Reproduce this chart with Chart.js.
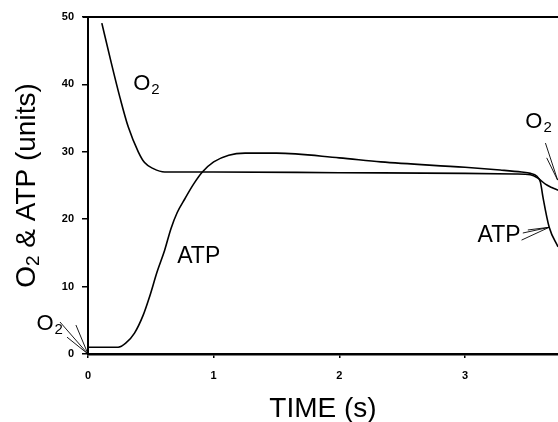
<!DOCTYPE html>
<html>
<head>
<meta charset="utf-8">
<script src="https://cdn.jsdelivr.net/npm/chart.js@4.4.0/dist/chart.umd.min.js"></script>
<style>
  body { margin: 0; background: #fff; }
  canvas { display: block; }
</style>
</head>
<body>
<canvas id="chartO2" width="558" height="422"></canvas>
<script>
// O2 trace (time in s, value in units)
const o2Time = [0.11, 0.18, 0.255, 0.32, 0.40, 0.45, 0.52, 0.61, 1.0, 2.0, 3.0, 3.4, 3.52, 3.58, 3.64, 3.69, 3.74];
const o2Vals = [49.1, 43.6, 38.0, 33.7, 30.0, 28.4, 27.5, 27.0, 27.0, 26.9, 26.8, 26.7, 26.6, 26.1, 25.2, 24.7, 24.3];

// ATP trace
const atpTime = [0, 0.24, 0.30, 0.37, 0.44, 0.49, 0.55, 0.61, 0.66, 0.71, 0.77, 0.84, 0.91, 1.0, 1.12, 1.25, 1.5, 2.0, 2.33, 3.0, 3.28, 3.45, 3.52, 3.57, 3.60, 3.62, 3.67, 3.74];
const atpVals = [1.0, 1.0, 1.6, 3.1, 5.8, 8.5, 12.2, 15.4, 18.6, 21.0, 23.0, 25.2, 27.0, 28.5, 29.5, 29.8, 29.8, 29.1, 28.5, 27.7, 27.3, 27.0, 26.8, 26.4, 25.5, 23.3, 18.8, 15.9];

const xTicks = [0, 1, 2, 3];
const yTicks = [0, 10, 20, 30, 40, 50];

// text labels on the plot: [text, subscript, time, value, font size]
const labels = [
  ['O', '2', 0.36, 39.2, 22],
  ['ATP', '', 0.71, 13.5, 23],
  ['O', '2', -0.41, 3.6, 22],
  ['O', '2', 3.48, 33.5, 22],
  ['ATP', '', 3.10, 16.6, 23]
];
// little feathered arrows: tip and tails
const arrows = [
  { tip: [0, 0], tails: [[-0.223, 4.75], [-0.167, 2.5], [-0.096, 4.3]] },
  { tip: [3.737, 25.8], tails: [[3.64, 31.3], [3.65, 29.1]] },
  { tip: [3.67, 18.8], tails: [[3.46, 17.95], [3.45, 16.9], [3.50, 18.4]] }
];

const FONT = '"Liberation Sans", Arial, sans-serif';

const extras = {
  id: 'extras',
  afterDraw(chart) {
    const ctx = chart.ctx;
    const xs = chart.scales.x, ys = chart.scales.y;
    const area = chart.chartArea;
    ctx.save();
    ctx.strokeStyle = '#000';
    ctx.fillStyle = '#000';

    // top frame line
    ctx.lineWidth = 2;
    ctx.beginPath();
    ctx.moveTo(area.left - 5, area.top);
    ctx.lineTo(area.right, area.top);
    ctx.stroke();

    // labels
    ctx.textBaseline = 'alphabetic';
    ctx.textAlign = 'left';
    labels.forEach(([txt, sub, t, v, size]) => {
      const px = xs.getPixelForValue(t), py = ys.getPixelForValue(v);
      ctx.font = size + 'px ' + FONT;
      ctx.fillText(txt, px, py);
      if (sub) {
        const w = ctx.measureText(txt).width;
        ctx.font = Math.round(size * 0.68) + 'px ' + FONT;
        ctx.fillText(sub, px + w + 1, py + 4);
      }
    });

    // arrows
    ctx.lineWidth = 0.9;
    arrows.forEach(a => {
      const tx = xs.getPixelForValue(a.tip[0]), ty = ys.getPixelForValue(a.tip[1]);
      a.tails.forEach(([t, v]) => {
        ctx.beginPath();
        ctx.moveTo(xs.getPixelForValue(t), ys.getPixelForValue(v));
        ctx.lineTo(tx, ty);
        ctx.stroke();
      });
    });

    // y axis title with subscript
    ctx.translate(27, (area.top + area.bottom) / 2);
    ctx.rotate(-Math.PI / 2);
    const big = '28px ' + FONT, small = '19px ' + FONT;
    ctx.font = big;
    const wO = ctx.measureText('O').width;
    const rest = ' & ATP (units)';
    const wRest = ctx.measureText(rest).width;
    ctx.font = small;
    const w2 = ctx.measureText('2').width;
    const total = wO + w2 + wRest;
    let x0 = -total / 2;
    ctx.textBaseline = 'middle';
    ctx.font = big;
    ctx.fillText('O', x0, 0);
    ctx.font = small;
    ctx.fillText('2', x0 + wO, 7);
    ctx.font = big;
    ctx.fillText(rest, x0 + wO + w2, 0);
    ctx.restore();
  }
};

new Chart(document.getElementById('chartO2').getContext('2d'), {
  type: 'line',
  data: {
    datasets: [
      {
        label: 'O2',
        data: o2Time.map((t, i) => ({ x: t, y: o2Vals[i] })),
        borderColor: '#000',
        borderWidth: 1.6,
        pointRadius: 0,
        cubicInterpolationMode: 'monotone',
        fill: false
      },
      {
        label: 'ATP',
        data: atpTime.map((t, i) => ({ x: t, y: atpVals[i] })),
        borderColor: '#000',
        borderWidth: 1.6,
        pointRadius: 0,
        cubicInterpolationMode: 'monotone',
        fill: false
      }
    ]
  },
  options: {
    responsive: false,
    animation: false,
    layout: { padding: { top: 17, right: 0, left: 0, bottom: 0 } },
    plugins: { legend: { display: false }, tooltip: { enabled: false } },
    scales: {
      x: {
        type: 'linear',
        min: 0,
        max: 3.74,
        afterBuildTicks: s => { s.ticks = xTicks.map(v => ({ value: v })); },
        afterFit: s => { s.height = 68; },
        border: { display: true, color: '#000', width: 2.5 },
        grid: { drawOnChartArea: false, drawTicks: true, tickLength: 4, color: '#000', lineWidth: 1.5 },
        ticks: { color: '#000', padding: 11, maxRotation: 0, font: { family: FONT, size: 11, weight: 'bold' } },
        title: {
          display: true,
          text: 'TIME (s)',
          color: '#000',
          font: { family: FONT, size: 28 },
          padding: { top: 18, bottom: -4 }
        }
      },
      y: {
        min: 0,
        max: 50,
        afterBuildTicks: s => { s.ticks = yTicks.map(v => ({ value: v })); },
        afterFit: s => { s.width = 88; },
        border: { display: true, color: '#000', width: 2 },
        grid: { drawOnChartArea: false, drawTicks: true, tickLength: 6, color: '#000', lineWidth: 1.5 },
        ticks: { color: '#000', padding: 8, font: { family: FONT, size: 11, weight: 'bold' } }
      }
    }
  },
  plugins: [extras]
});
</script>
</body>
</html>
